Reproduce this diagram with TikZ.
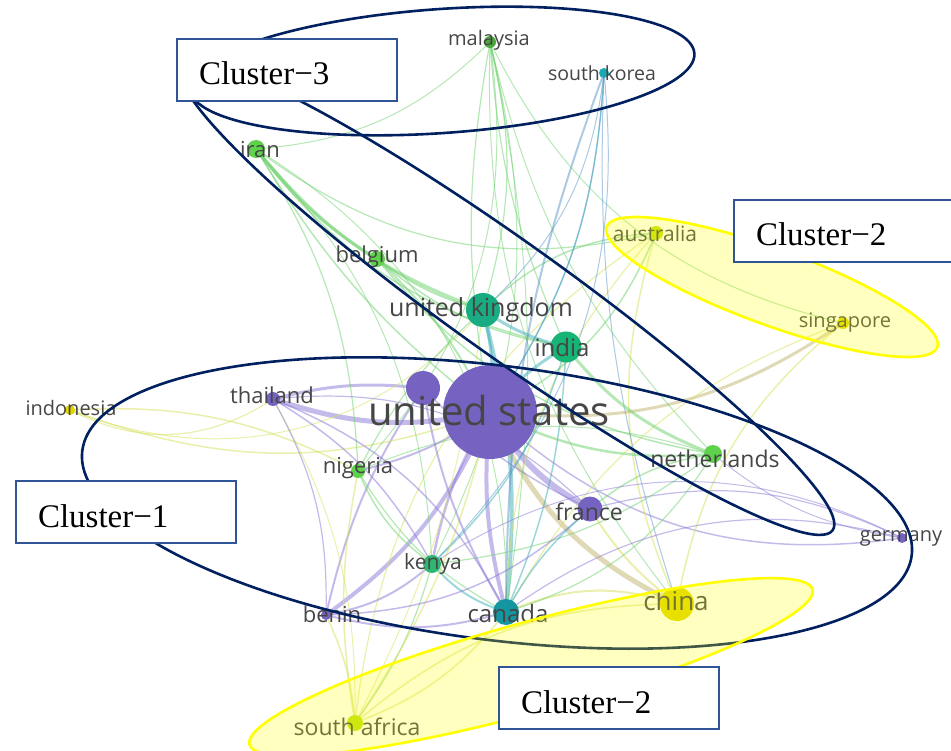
\documentclass[tikz,border=0pt]{standalone}
\usepackage{fontspec}
\newfontfamily\vosfont{Open Sans}
\newfontfamily\tagserif{Liberation Serif}
\usetikzlibrary{backgrounds}

\definecolor{clnavy}{RGB}{0,32,96}
\definecolor{boxblue}{RGB}{47,85,151}
\definecolor{clyellow}{RGB}{255,255,0}
\definecolor{tagcol}{RGB}{70,70,70}
\definecolor{npurple}{RGB}{118,98,192}
\definecolor{nteal}{RGB}{20,150,160}
\definecolor{nsea}{RGB}{25,172,130}
\definecolor{ngreen}{RGB}{95,210,75}
\definecolor{ncyan}{RGB}{25,170,180}
\definecolor{nyellow}{RGB}{225,215,0}
\definecolor{nlime}{RGB}{190,225,20}
\definecolor{epurple}{RGB}{140,120,215}
\definecolor{eteal}{RGB}{60,175,185}
\definecolor{egreen}{RGB}{110,210,110}
\definecolor{eblue}{RGB}{90,150,200}
\definecolor{eyellow}{RGB}{215,225,90}
\definecolor{etan}{RGB}{195,180,110}

\begin{document}
\begin{tikzpicture}[x=1pt,y=-1pt,
  vnode/.style={circle, inner sep=0pt, minimum size=#1pt},
  vlabel/.style={text=tagcol, inner sep=0pt, font=\vosfont\fontsize{#1}{#1}\selectfont},
  vlink/.style={line width=#1pt, draw opacity=.5},
  navyring/.style={draw=clnavy, line width=2.6pt},
  yellowring/.style={draw=clyellow, line width=2.6pt, fill=clyellow, fill opacity=.25},
  clusterbox/.style={draw=boxblue, fill=white, line width=1.2pt,
    font=\tagserif\fontsize{33}{33}\selectfont, text width=176pt, align=left,
    inner xsep=22pt, minimum height=62pt, text height=30pt, text depth=0pt}]
\useasboundingbox (0,0) rectangle (951,751);

% countries
\node[vnode=94, fill=npurple] (us) at (490,412) {};
\node[vnode=34, fill=npurple] (hid) at (423,388) {};
\node[vnode=34, fill=nsea] (uk) at (483,310) {};
\node[vnode=31, fill=nsea!90!green] (india) at (566,347) {};
\node[vnode=25, fill=npurple] (france) at (590,509) {};
\node[vnode=26, fill=nteal] (canada) at (506,612) {};
\node[vnode=34, fill=nyellow] (china) at (677,604) {};
\node[vnode=18, fill=nsea!70!ngreen] (kenya) at (432,564) {};
\node[vnode=18, fill=ngreen] (neth) at (713,454) {};
\node[vnode=16, fill=ngreen] (belgium) at (377,259) {};
\node[vnode=18, fill=ngreen] (iran) at (256,149) {};
\node[vnode=14, fill=ngreen] (nigeria) at (358,471) {};
\node[vnode=14, fill=npurple] (thailand) at (273,399) {};
\node[vnode=10, fill=npurple] (benin) at (326,615) {};
\node[vnode=10, fill=npurple] (germany) at (902,538) {};
\node[vnode=12, fill=ngreen!80!black] (malaysia) at (490,42) {};
\node[vnode=10, fill=ncyan] (skorea) at (604,73) {};
\node[vnode=14, fill=nlime!80!nyellow] (australia) at (656,233) {};
\node[vnode=12, fill=nyellow] (singapore) at (843,323) {};
\node[vnode=10, fill=nyellow] (indonesia) at (70,410) {};
\node[vnode=16, fill=nlime] (safrica) at (355,723) {};

% links
\begin{scope}[on background layer]
\fill[white] (0,0) rectangle (951,751);
\foreach \a/\b/\c/\w/\t in {
  us/thailand/epurple/5/15, thailand/hid/epurple/3/10, us/france/epurple/6/-15,
  us/benin/epurple/4/15, benin/hid/epurple/2/10, us/canada/epurple/4/-10,
  uk/canada/eteal/4/10, us/kenya/epurple/2.5/-10, us/nigeria/epurple/2/10,
  us/germany/epurple/1.5/-25, france/germany/epurple/1.2/20, us/china/etan/5/-20,
  china/canada/eyellow/2/-20, china/safrica/eyellow/1.5/-20, china/france/eyellow/2/10,
  china/australia/eyellow/1.5/20, china/singapore/eyellow/1.5/20, singapore/us/etan/3/20,
  singapore/canada/eyellow/1.2/-20, australia/us/egreen/1.5/20, australia/uk/egreen/1.5/-20,
  australia/canada/eyellow/1.2/-20, australia/safrica/eyellow/1.2/-25, indonesia/us/eyellow/1.5/-20,
  indonesia/nigeria/eyellow/1.5/15, indonesia/thailand/eyellow/1.2/-30, indonesia/uk/eyellow/1/-35,
  iran/belgium/egreen/3/-10, iran/uk/egreen/3/-15,
  iran/india/egreen/1.5/-20, iran/australia/egreen/1.2/-25, iran/nigeria/egreen/1.2/15,
  iran/kenya/egreen/1/20, iran/canada/egreen/1/30, belgium/uk/egreen/2/-10, belgium/us/egreen/2/10,
  belgium/neth/egreen/1.5/-20, belgium/india/egreen/1.5/-15, malaysia/uk/egreen/1.2/15,
  malaysia/india/egreen/1.2/-10, malaysia/kenya/egreen/1/20, malaysia/neth/egreen/1/-15,
  malaysia/canada/egreen/1/10, malaysia/singapore/egreen/1/-25, malaysia/nigeria/egreen/1/25,
  malaysia/iran/egreen/1/20, malaysia/china/egreen/1/-20, skorea/canada/eblue/2/-10, skorea/us/eblue/1.5/15,
  skorea/uk/eblue/1/20, skorea/china/eblue/1/-10, skorea/kenya/eblue/1/25, uk/india/eteal/3/-10,
  uk/us/eteal/3/10, india/us/eteal/3/-10, india/neth/egreen/3/-15,
  india/kenya/eteal/1.5/15, india/canada/eteal/1.5/10, neth/us/egreen/2.5/15,
  neth/france/egreen/1.5/-15, neth/canada/egreen/1.2/20, neth/kenya/egreen/1.2/15,
  neth/nigeria/egreen/1/-20, kenya/canada/eteal/2/-15, kenya/benin/epurple/2/15, kenya/safrica/egreen/1.2/10,
  safrica/benin/eyellow/1.5/-10, safrica/canada/eyellow/1.5/-15, safrica/us/eyellow/1.5/-10,
  safrica/nigeria/eyellow/1.5/10, safrica/uk/eyellow/1/-10, safrica/thailand/eyellow/1/-15,
  nigeria/kenya/egreen/1.5/-15,
  nigeria/canada/egreen/1.2/-15, nigeria/uk/egreen/1.2/10, thailand/kenya/epurple/1.5/15,
  thailand/canada/epurple/1.5/20, thailand/france/epurple/1.2/25, thailand/benin/epurple/1.2/15,
  benin/canada/epurple/2/-15, benin/france/epurple/1.5/-20, germany/canada/epurple/1.2/-25,
  germany/kenya/epurple/1/-30, germany/neth/epurple/1/15, canada/france/eteal/1.5/10,
  hid/canada/epurple/2/-10, hid/france/epurple/1.5/-10, us/iran/egreen/1.5/10,
  us/malaysia/egreen/1.2/10, us/skorea/eteal/1/-15}
  \draw[vlink=\w, \c] (\a.center) to[bend left=\t] (\b.center);
\end{scope}

% labels
\node[vlabel=40] (us-t) at (489,410) {united states};
\node[vlabel=25] (uk-t) at (481,310) {united kingdom};
\node[vlabel=24] (india-t) at (562,348) {india};
\node[vlabel=23] (france-t) at (589,512) {france};
\node[vlabel=23] (neth-t) at (715,459) {netherlands};
\node[vlabel=24] (canada-t) at (508,613) {canada};
\node[vlabel=26] (china-t) at (676,601) {china};
\node[vlabel=21] (kenya-t) at (433,564) {kenya};
\node[vlabel=22] (belgium-t) at (377,257) {belgium};
\node[vlabel=22] (iran-t) at (260,150) {iran};
\node[vlabel=22] (nigeria-t) at (358,468) {nigeria};
\node[vlabel=22] (thailand-t) at (272,395) {thailand};
\node[vlabel=22] (benin-t) at (332,614) {benin};
\node[vlabel=20] (germany-t) at (901,538) {germany};
\node[vlabel=20] (malaysia-t) at (489,40) {malaysia};
\node[vlabel=19.5] (skorea-t) at (602,73) {south korea};
\node[vlabel=21] (australia-t) at (655,234) {australia};
\node[vlabel=20] (singapore-t) at (845,323) {singapore};
\node[vlabel=20] (indonesia-t) at (71,408) {indonesia};
\node[vlabel=23] (safrica-t) at (357,727) {south africa};

% cluster rings
\draw[navyring, rotate around={4:(442,71)}] (442,71) ellipse [x radius=253pt, y radius=62pt];
\draw[navyring, rotate around={-35.5:(507,298)}] (507,298) ellipse [x radius=400pt, y radius=57pt];
\draw[navyring, rotate around={-7.2:(497,503)}] (497,503) ellipse [x radius=418pt, y radius=137pt];
\draw[yellowring, rotate around={-20:(772,287)}] (772,287) ellipse [x radius=176pt, y radius=38pt];
\draw[yellowring, rotate around={15.4:(531,667)}] (531,667) ellipse [x radius=292pt, y radius=45pt];

% cluster tags
\node[clusterbox] (c3box) at (287,70) {Cluster−3};
\node[clusterbox] (c1box) at (126,512) {Cluster−1};
\node[clusterbox] (c2top) at (844,231) {Cluster−2};
\node[clusterbox] (c2bot) at (609,698) {Cluster−2};
\end{tikzpicture}
\end{document}
